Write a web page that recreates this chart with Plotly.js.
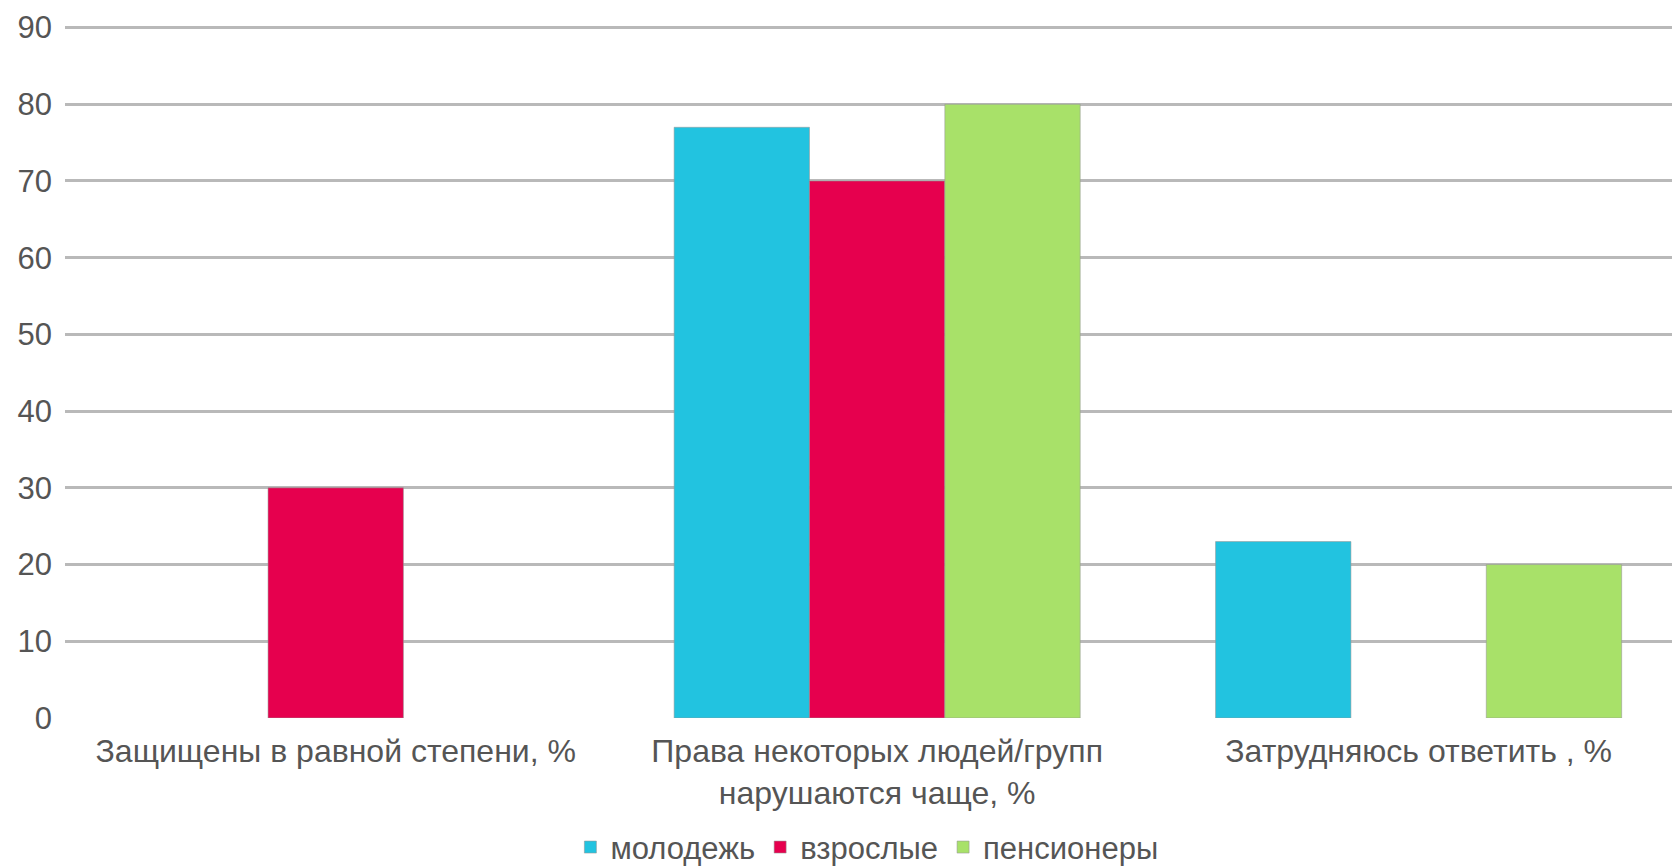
<!DOCTYPE html>
<html><head><meta charset="utf-8">
<script src="https://cdn.plot.ly/plotly-3.0.1.min.js"></script>
<style>html,body{margin:0;padding:0;background:#fff;overflow:hidden}#chart{width:1672px;height:868px}</style>
</head><body><div id="chart"></div>
<script>
var categories = ["Защищены в равной степени, %", "Права некоторых людей/групп<br>нарушаются чаще, %", "Затрудняюсь ответить , %"];
var seriesNames = ["молодежь", "взрослые", "пенсионеры"];
var youth = [null, 77, 23];
var adults = [30, 70, null];
var pensioners = [null, 80, 20];
var yTicks = [0, 10, 20, 30, 40, 50, 60, 70, 80, 90];

var colors = ["#22c3e0", "#e6004e", "#a8e169"];
var values = [youth, adults, pensioners];
var traces = values.map(function(v, i){
  return {type:'bar', name: seriesNames[i], x: categories, y: v,
    marker:{color: colors[i], line:{color:'rgba(150,150,150,0.55)', width:1}},
    hoverinfo:'x+y+name'};
});
var layout = {
  width:1672, height:868,
  margin:{l:64.5, r:0, t:26.2, b:150, autoexpand:false},
  paper_bgcolor:'#fff', plot_bgcolor:'#fff',
  barmode:'group', bargap:0.25, bargroupgap:0,
  font:{family:'Liberation Sans, Arial, sans-serif', color:'#555555', size:32},
  xaxis:{type:'category', range:[-0.5, 2.468], showgrid:false, zeroline:false, showline:false, automargin:false,
    ticks:'', tickfont:{size:32, color:'#555555'}, ticklabelstandoff:11},
  yaxis:{range:[0,90.2], tickvals:yTicks, showgrid:true, gridcolor:'#b9b9b9', gridwidth:3, automargin:false,
    zeroline:false, showline:false, ticks:'', tickfont:{size:31, color:'#555555'}, ticklabelstandoff:12},
  legend:{orientation:'h', x:0.499, xanchor:'center', y:-0.187, yanchor:'middle',
    font:{size:31, color:'#555555'}, itemwidth:30, tracegroupgap:0},
  showlegend:true
};
Plotly.newPlot('chart', traces, layout, {displayModeBar:false, staticPlot:true});
</script></body></html>
